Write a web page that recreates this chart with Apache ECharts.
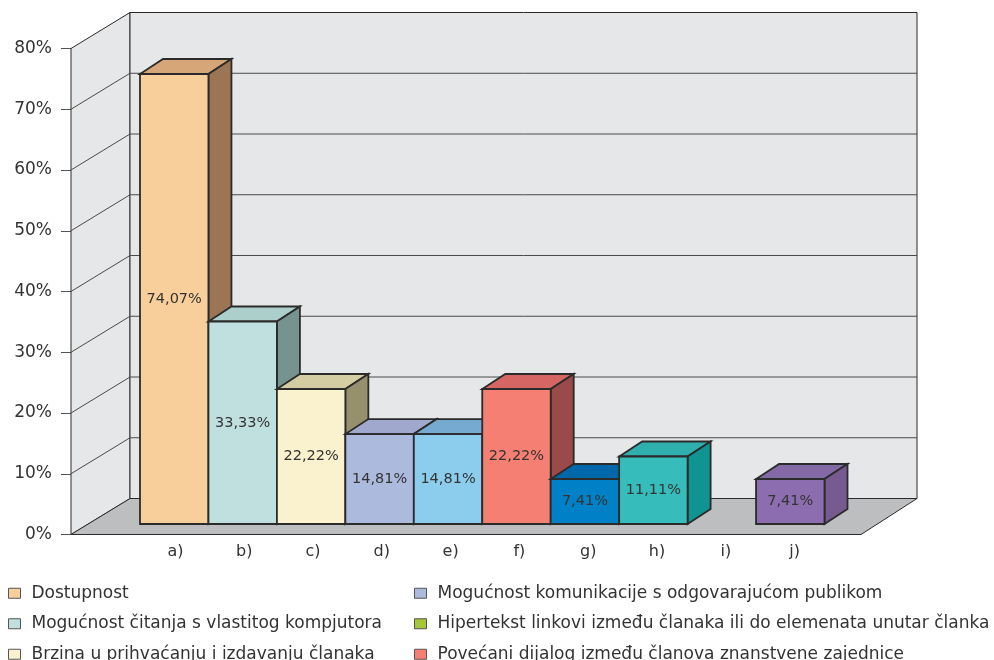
<!DOCTYPE html>
<html>
<head>
<meta charset="utf-8">
<style>html,body{margin:0;padding:0;background:#fff;overflow:hidden}#c{width:994px;height:660px}</style>
<script src="https://cdn.jsdelivr.net/npm/echarts@6/dist/echarts.min.js"></script>
</head>
<body>
<div id="c"></div>
<script>
var categories = ['a)','b)','c)','d)','e)','f)','g)','h)','i)','j)'];
var seriesNames = ['Dostupnost','Mogućnost čitanja s vlastitog kompjutora','Brzina u prihvaćanju i izdavanju članaka','Mogućnost komunikacije s odgovarajućom publikom','Hipertekst linkovi između članaka ili do elemenata unutar članka','Povećani dijalog između članova znanstvene zajednice','g)','h)','i)','j)'];
var values = [74.07,33.33,22.22,14.81,14.81,22.22,7.41,11.11,0,7.41];
var yTicks = [0,10,20,30,40,50,60,70,80];
var frontColors = ['#f8cf9b','#bfe0df','#faf1cf','#acbade','#8ccdee','#f67f73','#0080c6','#36bdbb','#a6c639','#8c6db0'];
var topColors   = ['#d6a679','#accfcc','#d4cca3','#a0a9cd','#76aad0','#d66664','#0067a9','#2fb0ae','#8ea830','#8469a7'];
var sideColors  = ['#9c7554','#77938f','#97906d','#7d86a3','#6a97b5','#9b4a4a','#00568e','#0f9491','#6f8526','#765a90'];
var legendLeft = [0,1,2], legendRight = [3,4,5];
var legendColors = {3:'#acbade',4:'#a6c639',5:'#f67f73'};

var INK = '#2b2b2b', WALL = '#e6e7e9', FLOOR = '#bcbec0', TXT = '#333';
var FONT = '"DejaVu Sans", sans-serif';
var AXIS_X = 71, BACK_DX = 59, BACK_DY = 36, BACK_R = 917, FLOOR_R = 861;
var BAR_DX = 23, BAR_DY = 15;

function line(x1,y1,x2,y2,w){
  return {type:'line',shape:{x1:x1,y1:y1,x2:x2,y2:y2},style:{stroke:'#4a4a4a',lineWidth:w||1,fill:null}};
}
function poly(pts,fill,w){
  return {type:'polygon',shape:{points:pts},style:{fill:fill,stroke:INK,lineWidth:w,lineJoin:'miter'}};
}
var barSeries = categories.map(function(c,i){
  return {
    name: seriesNames[i], type:'custom', xAxisIndex:1, yAxisIndex:1, z:5,
    clip:false, silent:true, encode:{x:0,y:1},
    itemStyle:{color:frontColors[i]},
    data:[[i,values[i]]],
    renderItem:function(p,api){
      var v = api.value(1);
      if(!v) return null;
      var idx = api.value(0);
      var t = api.coord([idx,v]), b = api.coord([idx,0]);
      var w = api.size([1,0])[0];
      var l = t[0]-w/2, r = t[0]+w/2;
      return {type:'group',children:[
        poly([[l,t[1]],[r,t[1]],[r+BAR_DX,t[1]-BAR_DY],[l+BAR_DX,t[1]-BAR_DY]],topColors[i],1.8),
        poly([[r,b[1]],[r+BAR_DX,b[1]-BAR_DY],[r+BAR_DX,t[1]-BAR_DY],[r,t[1]]],sideColors[i],1.8),
        poly([[l,b[1]],[r,b[1]],[r,t[1]],[l,t[1]]],frontColors[i],1.8),
        {type:'text',style:{text:v.toFixed(2).replace('.',',')+'%',x:t[0],y:(t[1]+b[1])/2,align:'center',verticalAlign:'middle',fill:TXT,font:'14.5px '+FONT}}
      ]};
    }
  };
});
var wallSeries = {
  type:'custom', xAxisIndex:0, yAxisIndex:0, z:2, clip:false, silent:true, encode:{y:0},
  data:[[yTicks[yTicks.length-1]]],
  renderItem:function(p,api){
    var t = api.coord([0,api.value(0)])[1], b = api.coord([0,0])[1];
    var bx = AXIS_X+BACK_DX;
    return {type:'group',children:[
      poly([[AXIS_X,b],[AXIS_X,t],[bx,t-BACK_DY],[bx,b-BACK_DY]],WALL,1),
      poly([[bx,t-BACK_DY],[BACK_R,t-BACK_DY],[BACK_R,b-BACK_DY],[bx,b-BACK_DY]],WALL,1),
      poly([[AXIS_X,b],[FLOOR_R,b],[BACK_R,b-BACK_DY],[bx,b-BACK_DY]],FLOOR,1)
    ]};
  }
};
var gridSeries = {
  type:'custom', xAxisIndex:0, yAxisIndex:0, z:3, clip:false, silent:true, encode:{y:0},
  data:yTicks.slice(1,-1).map(function(v){return [v];}),
  renderItem:function(p,api){
    var y = api.coord([0,api.value(0)])[1], bx = AXIS_X+BACK_DX;
    return {type:'group',children:[
      line(AXIS_X,y,bx,y-BACK_DY), line(bx,y-BACK_DY,BACK_R,y-BACK_DY)
    ]};
  }
};
function legendOf(ids,left){
  return {
    orient:'vertical', left:left, top:584, height:120, itemWidth:12, itemHeight:10, itemGap:12, padding:0,
    selectedMode:false, icon:'rect',
    textStyle:{fontFamily:FONT,fontSize:17,color:TXT,padding:[0,0,0,6],lineHeight:18.5},
    data:ids.map(function(i){
      return {name:seriesNames[i],itemStyle:{color:legendColors[i]||frontColors[i],borderColor:'#555',borderWidth:1}};
    })
  };
}
var option = {
  animation:false, backgroundColor:'#fff',
  grid:[
    {left:141,width:688,top:48.5,height:486},
    {left:140,width:684.5,top:38,height:486}
  ],
  xAxis:[
    {type:'category',gridIndex:0,data:categories,axisLine:{show:false},axisTick:{show:false},
     axisLabel:{margin:9,fontFamily:FONT,fontSize:16,color:TXT,interval:0}},
    {type:'category',gridIndex:1,data:categories,show:false}
  ],
  yAxis:[
    {type:'value',gridIndex:0,min:0,max:80,interval:10,offset:70,splitLine:{show:false},
     axisLine:{show:true,lineStyle:{color:'#555',width:1}},
     axisTick:{show:true,length:10,lineStyle:{color:'#555',width:1}},
     axisLabel:{margin:19,formatter:'{value}%',fontFamily:FONT,fontSize:17,color:TXT}},
    {type:'value',gridIndex:1,min:0,max:80,interval:10,show:false}
  ],
  legend:[legendOf(legendLeft,8),legendOf(legendRight,414)],
  series:[wallSeries,gridSeries].concat(barSeries)
};
echarts.init(document.getElementById('c'),null,{renderer:'canvas'}).setOption(option);
</script>
</body>
</html>
